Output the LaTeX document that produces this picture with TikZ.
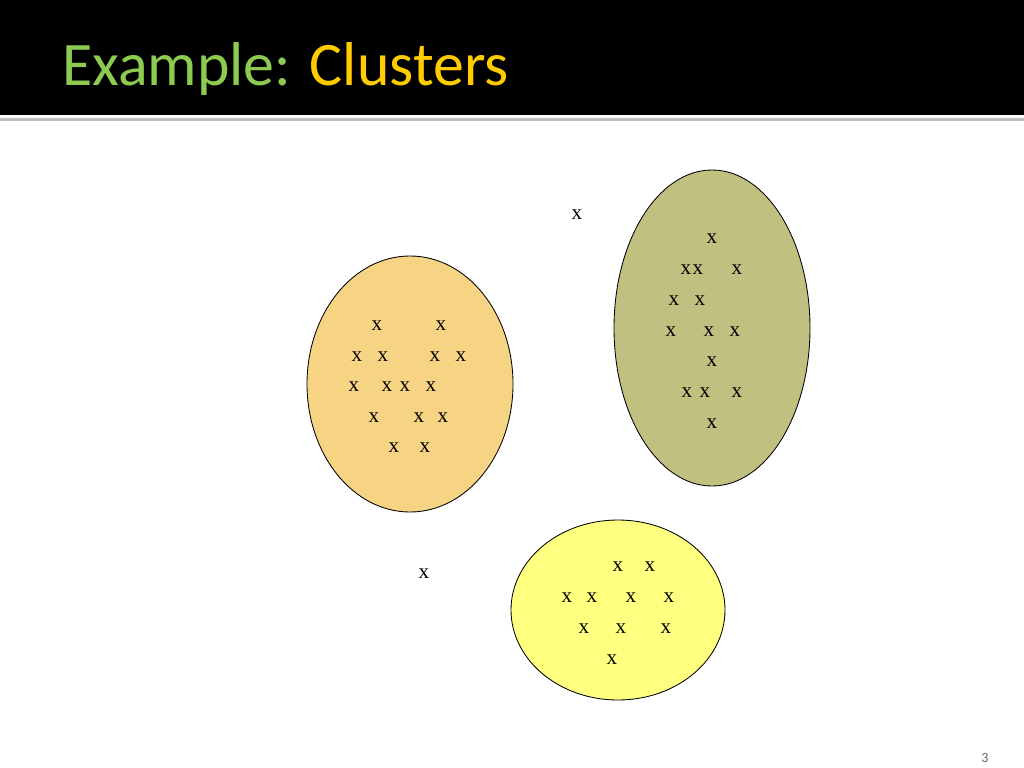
\documentclass[tikz,border=0pt]{standalone}
\usepackage{fontspec}
\setmainfont{Liberation Serif}
\newfontfamily\titlefont{Carlito}
\definecolor{titlegreen}{HTML}{8DCB50}
\definecolor{titleyellow}{HTML}{FFCC00}
\definecolor{orangefill}{HTML}{F7D384}
\definecolor{olivefill}{HTML}{C0C080}
\definecolor{yellowfill}{HTML}{FFFF80}
\tikzset{
  pt/.style={inner sep=0pt, font=\fontsize{15}{15}\selectfont},
  cluster/.style={draw=black, line width=0.6pt}
}
\begin{document}
\begin{tikzpicture}[x=0.025cm,y=-0.025cm]
  \useasboundingbox (0,0) rectangle (1024,768);
  % header
  \fill[black] (0,0) rectangle (1024,115);
  \fill[black!25] (0,118) rectangle (1024,121);
  \node[anchor=base west, inner sep=0pt, font=\titlefont\fontsize{44}{44}\selectfont] (title) at (62,86)
    {\textcolor{titlegreen}{Example:} \textcolor{titleyellow}{Clusters}};

  % clusters
  \draw[cluster, fill=orangefill] (410,384) ellipse [x radius=103, y radius=128];
  \draw[cluster, fill=olivefill] (712,328) ellipse [x radius=98, y radius=158];
  \draw[cluster, fill=yellowfill] (618,610) ellipse [x radius=107, y radius=90];

  % points
  \foreach \px/\py [count=\i] in {577/215, 424/574,
      377/326, 441/326, 357/357, 383/357, 435/357, 461/357,
      354/387, 387/387, 405/387, 431/387, 374/418, 419/418, 443/418,
      394/448, 425/448,
      712/239, 686/270, 698/270, 737/270, 674/301, 700/301,
      671/332, 709/332, 735/332, 712/362, 687/393, 705/393, 737/393, 712/424,
      618/567, 650/567, 567/598, 592/598, 631/598, 669/598,
      584/629, 621/629, 666/629, 612/660}
    \node[pt] (p\i) at (\px,\py) {x};

  % page number
  \node[font=\titlefont\fontsize{10}{10}\selectfont, text=black!60] (pagenum) at (985,758) {3};
\end{tikzpicture}
\end{document}
